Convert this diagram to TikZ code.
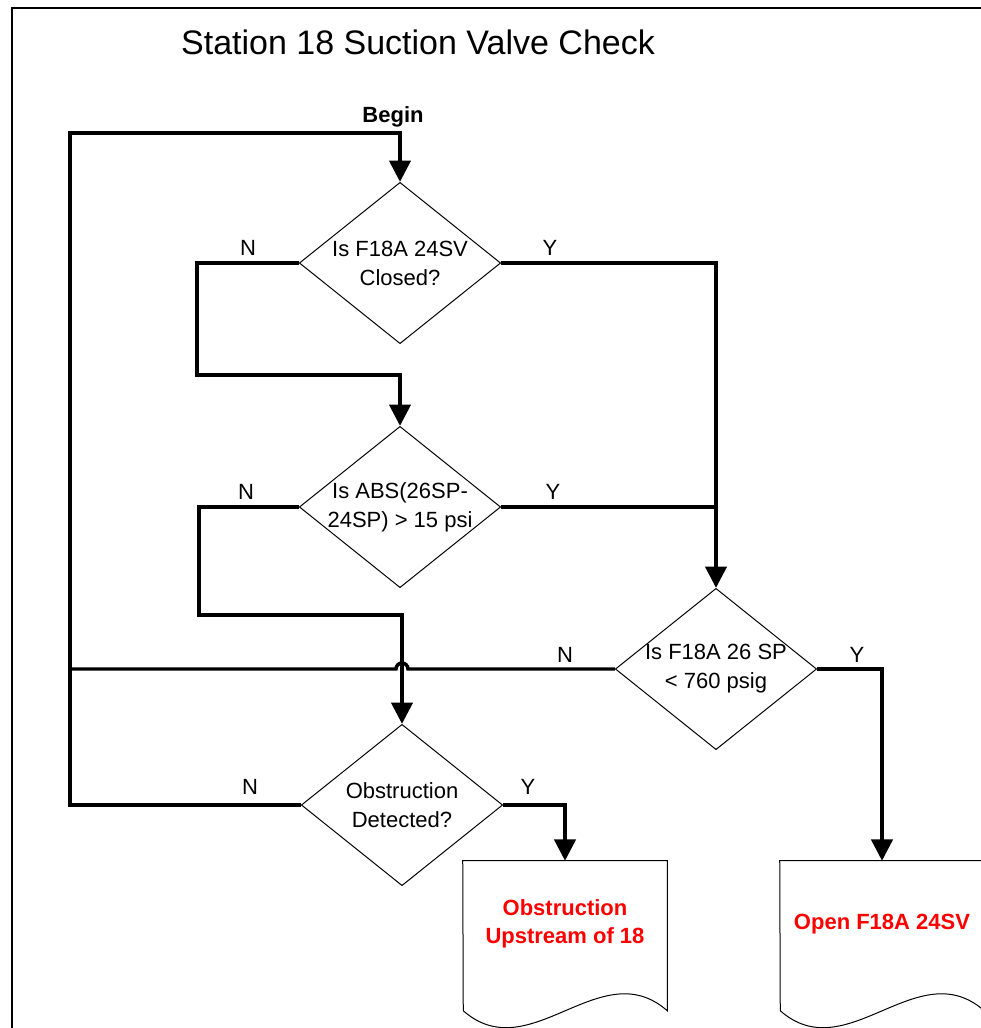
\documentclass[tikz,border=0pt]{standalone}
\usepackage{fontspec}
\setmainfont{Liberation Sans}
\usetikzlibrary{shapes.geometric,arrows.meta}

\begin{document}
\begin{tikzpicture} [
        x=0.75pt, y=-0.75pt,
        decision/.style={draw, diamond, aspect=1.25, line width=0.75pt, minimum width=151pt, minimum height=121pt, inner sep=-3pt, align=center, font=\fontsize{16.5}{21.75}\selectfont},
        doc/.style={rectangle, minimum width=153pt, minimum height=94.5pt, align=center, text=red, font=\fontsize{16.5}{21}\selectfont\bfseries},
        docline/.style={line width=0.75pt},
        flow/.style={line width=2.6pt, -{Triangle[length=16pt,width=16pt]}},
        wire/.style={line width=2.6pt},
        lbl/.style={font=\fontsize{16.5}{20}\selectfont} ]
    \useasboundingbox (0,0) rectangle (981,1028);
    \draw[line width=1.5pt] (12,1040) -- (12,8) -- (995,8);

    \node[font=\fontsize{25.5}{30}\selectfont] (t) at (418,42) {Station 18 Suction Valve Check};
    \node[lbl, font=\fontsize{16.5}{20}\selectfont\bfseries] (begin) at (393,117) {Begin};
    \coordinate (loop) at (70,133);

    \node[decision] (d1) at (400,263) {Is F18A 24SV\\Closed?};
    \node[decision, below of=d1, node distance=183pt] (d2) {Is ABS(26SP-\\24SP) > 15 psi};
    \node[decision] (d3) at (716,669) {Is F18A 26 SP\\< 760 psig};
    \node[decision, below of=d2, node distance=223.5pt, xshift=1.5pt] (d4) {Obstruction\\Detected?};
    \node[doc] (o1) at (565,924) {Obstruction\\Upstream of 18};
    \node[doc] (o2) at (882,924) {Open F18A 24SV};

    \draw[docline] (o1.north west) -- (o1.north east) -- ++(0pt,-112.5pt) .. controls +(-50pt,44pt) and +(50pt,-44pt) .. ++(-153pt,0pt) -- cycle;
    \draw[docline] (o2.north west) -- (o2.north east) -- ++(0pt,-112.5pt) .. controls +(-50pt,44pt) and +(50pt,-44pt) .. ++(-153pt,0pt) -- cycle;

    \draw[flow] (d4.west) -| (loop) -- (loop -| d1.north) -- (d1.north);
    \draw[flow] (d1.west) -- ++(-102,0) -- ++(0,112) -| (d2.north);
    \draw[flow] (d1.east) -| (d3.north);
    \draw[wire] (d2.east) -- (d2.east -| d3.north);
    \draw[flow] (d2.west) -- ++(-100,0) -- ++(0,108) -| (d4.north);
    \coordinate (hop) at (d3.west -| d4.north);
    \draw[wire] (d3.west) -- ([xshift=4.5pt]hop) arc[start angle=0, end angle=-180, radius=6] -- (d3.west -| loop);
    \draw[flow] (d3.east) -| (o2.north);
    \draw[flow] (d4.east) -| (o1.north);

    \node[lbl] (n1) at (248,248) {N};
    \node[lbl] (y1) at (550,248) {Y};
    \node[lbl] (n2) at (246,492) {N};
    \node[lbl] (y2) at (553,492) {Y};
    \node[lbl] (n3) at (565,655) {N};
    \node[lbl] (y3) at (857,655) {Y};
    \node[lbl] (n4) at (250,787) {N};
    \node[lbl] (y4) at (528,787) {Y};
\end{tikzpicture}
\end{document}
